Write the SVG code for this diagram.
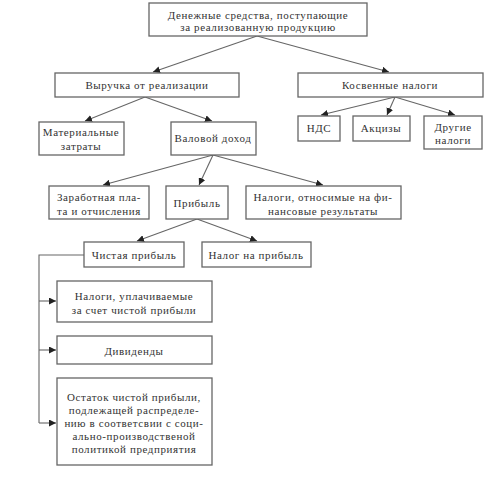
<svg xmlns="http://www.w3.org/2000/svg" width="503" height="477" viewBox="0 0 503 477">
<defs>
<marker id="ah" viewBox="0 0 10 10" refX="10" refY="5" markerWidth="7" markerHeight="7" markerUnits="userSpaceOnUse" orient="auto">
<path d="M0,0 L10,5 L0,10 z" fill="#222"/>
</marker>
<style>
rect{fill:#fff;stroke:#666;stroke-width:1.3}
text{font-family:"Liberation Serif","Times New Roman",serif;font-size:11px;letter-spacing:0.6px;fill:#333;text-anchor:middle}
.c line,.c polyline{stroke:#666;stroke-width:1.1;fill:none}
.a{marker-end:url(#ah)}
</style>
</defs>
<rect x="0" y="0" width="503" height="477" style="fill:#fff;stroke:none"/>
<g class="c" id="connectors">
<line class="a" x1="257" y1="36" x2="153" y2="72"/>
<line class="a" x1="257" y1="36" x2="389" y2="72"/>
<line class="a" x1="145" y1="97" x2="85" y2="121"/>
<line class="a" x1="145" y1="97" x2="212" y2="121"/>
<line class="a" x1="395" y1="97" x2="321" y2="115"/>
<line class="a" x1="395" y1="97" x2="387" y2="115"/>
<line class="a" x1="395" y1="97" x2="455" y2="115"/>
<line class="a" x1="213" y1="155" x2="103" y2="185"/>
<line class="a" x1="213" y1="155" x2="199" y2="185"/>
<line class="a" x1="213" y1="155" x2="323" y2="185"/>
<line class="a" x1="197" y1="219" x2="137" y2="241"/>
<line class="a" x1="197" y1="219" x2="257" y2="241"/>
<polyline points="84,255 39,255 39,423"/>
<line class="a" x1="39" y1="301" x2="56" y2="301"/>
<line class="a" x1="39" y1="350" x2="56" y2="350"/>
<line class="a" x1="39" y1="423" x2="56" y2="423"/>
</g>
<g id="n-top"><rect x="149" y="3" width="218" height="33"/><text x="258" y="18.5">Денежные средства, поступающие</text><text x="258" y="31">за реализованную продукцию</text></g>
<g id="n-revenue"><rect x="55" y="73" width="184" height="24"/><text x="147" y="89">Выручка от реализации</text></g>
<g id="n-indirect"><rect x="298" y="73" width="185" height="24"/><text x="390" y="89">Косвенные налоги</text></g>
<g id="n-material"><rect x="39" y="122" width="85" height="33"/><text x="81" y="136">Материальные</text><text x="81" y="150">затраты</text></g>
<g id="n-gross"><rect x="171" y="122" width="85" height="33"/><text x="213" y="142">Валовой доход</text></g>
<g id="n-vat"><rect x="298" y="116" width="42" height="25"/><text x="319" y="132">НДС</text></g>
<g id="n-excise"><rect x="353" y="116" width="57" height="25"/><text x="381" y="132">Акцизы</text></g>
<g id="n-other"><rect x="424" y="116" width="58" height="33"/><text x="453" y="131">Другие</text><text x="453" y="144">налоги</text></g>
<g id="n-wages"><rect x="49" y="186" width="100" height="33"/><text x="99" y="201">Заработная пла-</text><text x="99" y="215">та и отчисления</text></g>
<g id="n-profit"><rect x="166" y="186" width="62" height="33"/><text x="197" y="207">Прибыль</text></g>
<g id="n-fintax"><rect x="246" y="186" width="155" height="33"/><text x="323" y="201">Налоги, относимые на фи-</text><text x="323" y="215">нансовые результаты</text></g>
<g id="n-net"><rect x="84" y="242" width="100" height="25"/><text x="134" y="259">Чистая прибыль</text></g>
<g id="n-proftax"><rect x="202" y="242" width="109" height="25"/><text x="256" y="259">Налог на прибыль</text></g>
<g id="n-nettax"><rect x="57" y="281" width="155" height="41"/><text x="134" y="300">Налоги, уплачиваемые</text><text x="134" y="314">за счет чистой прибыли</text></g>
<g id="n-div"><rect x="57" y="336" width="155" height="28"/><text x="134" y="355">Дивиденды</text></g>
<g id="n-rest"><rect x="57" y="378" width="155" height="87"/><text x="134" y="401">Остаток чистой прибыли,</text><text x="134" y="414">подлежащей распределе-</text><text x="134" y="427">нию в соответсвии с соци-</text><text x="134" y="440">ально-производственой</text><text x="134" y="453">политикой предприятия</text></g>
</svg>
